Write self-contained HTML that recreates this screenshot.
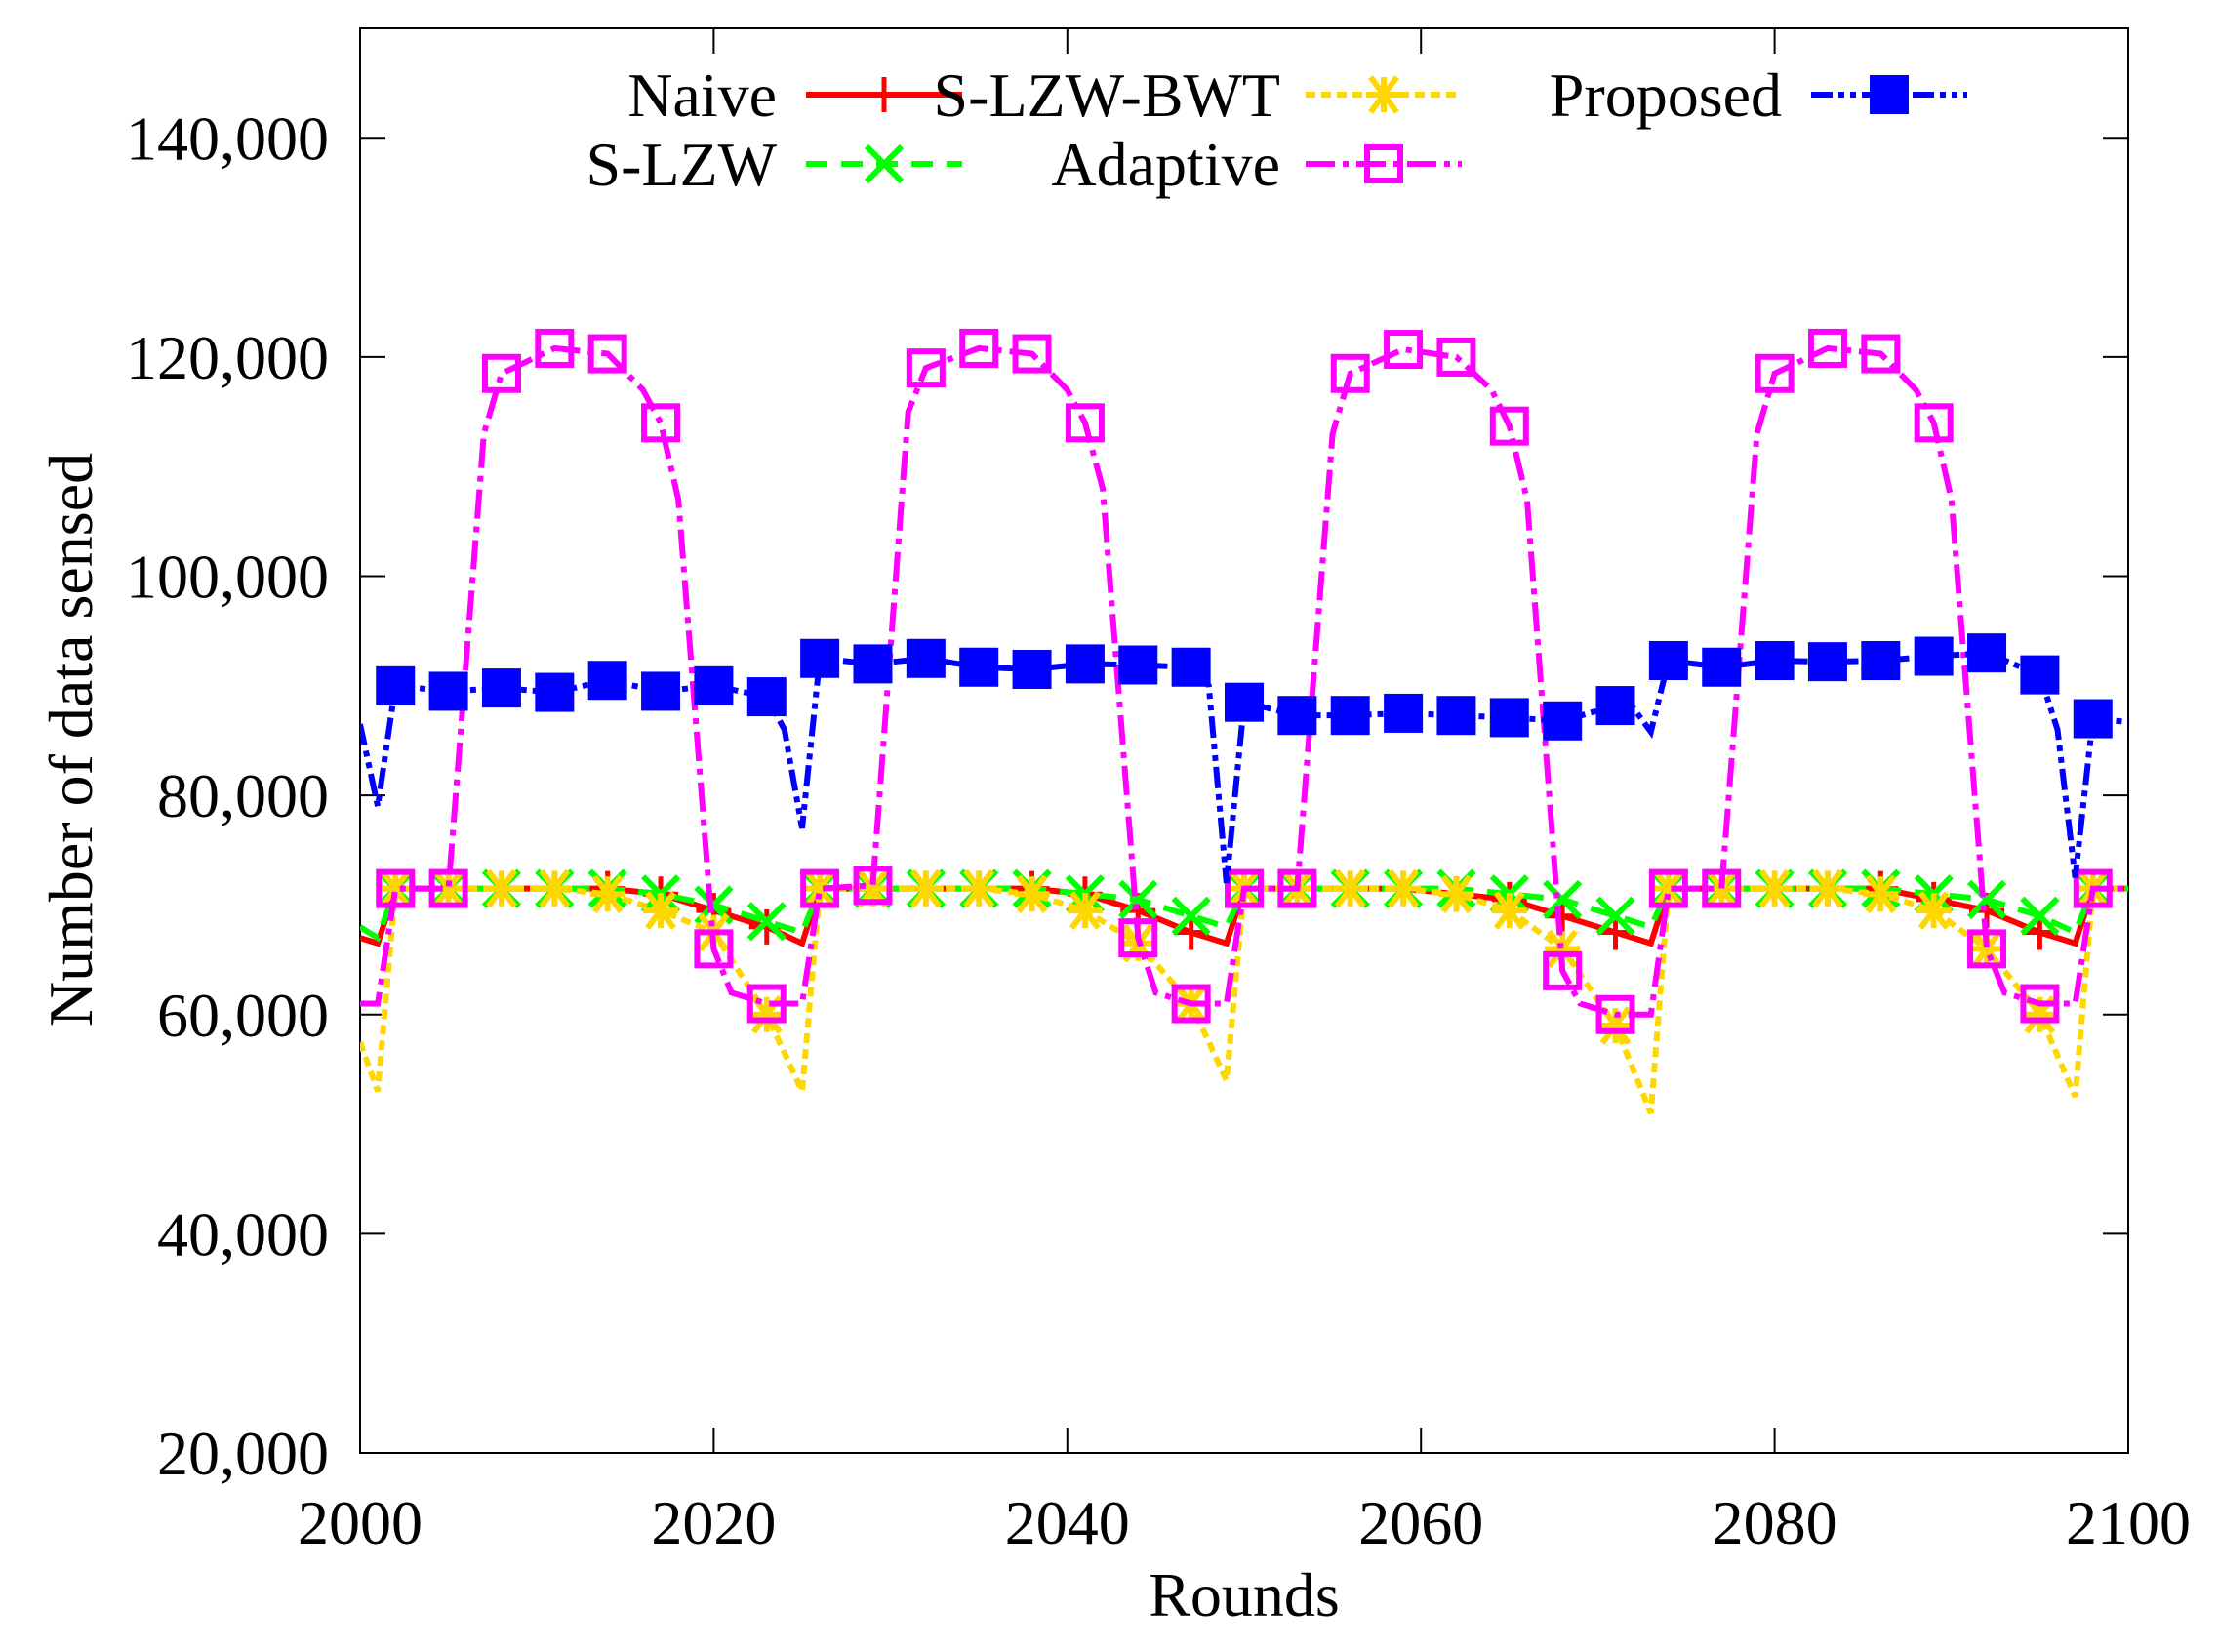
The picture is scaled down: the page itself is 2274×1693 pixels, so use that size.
<!DOCTYPE html>
<html><head><meta charset="utf-8"><style>
html,body{margin:0;padding:0;background:#fff;}
svg{display:block;font-family:"Liberation Serif",serif;}
</style></head><body>
<svg id="chart" width="2274" height="1693" viewBox="0 0 2274 1693" xmlns="http://www.w3.org/2000/svg"></svg>
<script>
const xTicks=[2000,2020,2040,2060,2080,2100];
const yTicks=[20000,40000,60000,80000,100000,120000,140000];
const yTickLabels=["20,000","40,000","60,000","80,000","100,000","120,000","140,000"];
const naiveRounds=[2000,2001,2002,2005,2008,2011,2014,2017,2020,2023,2025,2026,2029,2032,2035,2038,2041,2044,2047,2049,2050,2053,2056,2059,2062,2065,2068,2071,2073,2074,2077,2080,2083,2086,2089,2092,2095,2097,2098,2100];
const naiveValues=[67000,66500,71500,71500,71500,71500,71500,71000,69500,68000,66500,71500,71500,71500,71500,71500,71000,69500,67500,66500,71500,71500,71500,71500,71000,70500,69000,67500,66500,71500,71500,71500,71500,71500,70500,69500,67500,66500,71500,71500];
const slzwRounds=naiveRounds;
const slzwValues=[68000,67000,71500,71500,71500,71500,71500,71000,70000,68500,67500,71500,71500,71500,71500,71500,71000,70500,69000,68000,71500,71500,71500,71500,71500,71000,70500,69000,68000,71500,71500,71500,71500,71500,71000,70500,69000,67500,71500,71500];
const bwtRounds=naiveRounds;
const bwtValues=[57500,53000,71500,71500,71500,71500,71000,69500,67500,60000,53000,71500,71500,71500,71500,71000,69500,66500,61000,54000,71500,71500,71500,71500,71000,69500,66000,59000,51000,71500,71500,71500,71500,71000,69500,66000,60000,52500,71500,71500];
const adaptiveRounds=[2000,2001,2002,2005,2007,2008,2011,2014,2016,2017,2018,2020,2021,2023,2025,2026,2029,2031,2032,2035,2038,2040,2041,2042,2044,2045,2047,2049,2050,2053,2055,2056,2059,2062,2064,2065,2066,2068,2069,2071,2073,2074,2077,2079,2080,2083,2086,2088,2089,2090,2092,2093,2095,2097,2098,2100];
const adaptiveValues=[61000,61000,71500,71500,113000,118500,120800,120300,117000,114000,107000,66000,62000,61000,61000,71500,71800,115000,119000,120800,120300,117000,114000,108000,67000,62000,61000,61000,71500,71500,113000,118500,120700,120000,117000,113700,107000,64000,61000,60000,60000,71500,71500,113000,118500,120800,120300,117000,114000,107000,66000,62000,61000,61000,71500,71500];
const propRounds=[2000,2001,2002,2005,2008,2011,2014,2017,2020,2023,2024,2025,2026,2029,2032,2035,2038,2041,2044,2047,2048,2049,2050,2053,2056,2059,2062,2065,2068,2071,2072,2073,2074,2077,2080,2083,2086,2089,2092,2095,2096,2097,2098,2100];
const propValues=[86500,79000,90000,89500,89800,89400,90500,89500,90000,89000,86000,77000,92500,92000,92500,91700,91500,92000,91900,91700,90000,72000,88500,87300,87300,87500,87300,87100,86800,88200,88000,85800,92300,91700,92300,92200,92300,92700,93000,91000,86000,72500,87000,86700];

const svg=document.getElementById('chart');
const NS='http://www.w3.org/2000/svg';
const L=369,R=2181,T=29,B=1489;
const X0=2000,X1=2100,Y0=20000,Y1=150000;
function sx(v){return L+(v-X0)/(X1-X0)*(R-L);}
function sy(v){return B-(v-Y0)/(Y1-Y0)*(B-T);}
function mk(tag,attrs,parent){const e=document.createElementNS(NS,tag);for(const k in attrs)e.setAttribute(k,attrs[k]);(parent||svg).appendChild(e);return e;}

const defs=mk('defs',{});
const cp=mk('clipPath',{id:'clip'},defs);
mk('rect',{x:L,y:T,width:R-L,height:B-T},cp);

const frame=mk('rect',{x:L,y:T,width:R-L,height:B-T,fill:'none',stroke:'#000','stroke-width':2});


const tick=26;
xTicks.forEach((t,i)=>{
  const x=sx(t);
  const a=mk('line',{x1:x,y1:B,x2:x,y2:B-tick,stroke:'#000','stroke-width':2});
  
  
  const b=mk('line',{x1:x,y1:T,x2:x,y2:T+tick,stroke:'#000','stroke-width':2});
  
  
  const tx=mk('text',{x:x,y:1582,'font-size':64,'text-anchor':'middle'});
  tx.textContent=String(t);
  
  
});
yTicks.forEach((t,i)=>{
  const y=sy(t);
  const a=mk('line',{x1:L,y1:y,x2:L+tick,y2:y,stroke:'#000','stroke-width':2});
  
  
  const b=mk('line',{x1:R,y1:y,x2:R-tick,y2:y,stroke:'#000','stroke-width':2});
  
  
  const tx=mk('text',{x:337,y:y+22,'font-size':64,'text-anchor':'end'});
  tx.textContent=yTickLabels[i];
  
  
});
const xt=mk('text',{x:(L+R)/2,y:1656,'font-size':64,'text-anchor':'middle'});
xt.textContent='Rounds';


const yt=mk('text',{x:0,y:0,'font-size':64,'text-anchor':'middle',transform:'translate(94,758) rotate(-90)'});
yt.textContent='Number of data sensed';



function marker(type,color,x,y,parent){
  const g=mk('g',{},parent);
  const s=18;
  if(type==='plus'){
    mk('line',{x1:x-s,y1:y,x2:x+s,y2:y,stroke:color,'stroke-width':5},g);
    mk('line',{x1:x,y1:y-s,x2:x,y2:y+s,stroke:color,'stroke-width':5},g);
  }else if(type==='x'){
    mk('line',{x1:x-s,y1:y-s,x2:x+s,y2:y+s,stroke:color,'stroke-width':6},g);
    mk('line',{x1:x-s,y1:y+s,x2:x+s,y2:y-s,stroke:color,'stroke-width':6},g);
  }else if(type==='star'){
    mk('line',{x1:x-s,y1:y,x2:x+s,y2:y,stroke:color,'stroke-width':6},g);
    mk('line',{x1:x,y1:y-s,x2:x,y2:y+s,stroke:color,'stroke-width':6},g);
    mk('line',{x1:x-s*0.75,y1:y-s,x2:x+s*0.75,y2:y+s,stroke:color,'stroke-width':6},g);
    mk('line',{x1:x-s*0.75,y1:y+s,x2:x+s*0.75,y2:y-s,stroke:color,'stroke-width':6},g);
  }else if(type==='osq'){
    mk('rect',{x:x-17,y:y-17,width:34,height:34,fill:'none',stroke:color,'stroke-width':6},g);
  }else if(type==='fsq'){
    mk('rect',{x:x-20,y:y-20,width:40,height:40,fill:color},g);
  }
  return g;
}

const series=[
 {name:'naive',label:'Naive',rounds:naiveRounds,values:naiveValues,color:'#ff0000',dash:'',marker:'plus',lx:826,ly:97,tx:796},
 {name:'s-lzw',label:'S-LZW',rounds:slzwRounds,values:slzwValues,color:'#00ff00',dash:'22,14',marker:'x',lx:826,ly:168,tx:796},
 {name:'s-lzw-bwt',label:'S-LZW-BWT',rounds:bwtRounds,values:bwtValues,color:'#ffd700',dash:'10,6',marker:'star',lx:1338,ly:97,tx:1312},
 {name:'adaptive',label:'Adaptive',rounds:adaptiveRounds,values:adaptiveValues,color:'#ff00ff',dash:'30,8,6,8',marker:'osq',lx:1338,ly:168,tx:1312},
 {name:'proposed',label:'Proposed',rounds:propRounds,values:propValues,color:'#0000ff',dash:'22,6,6,6,6,6',marker:'fsq',lx:1856,ly:97,tx:1826}
];
series.forEach(s=>{
  const g=mk('g',{'clip-path':'url(#clip)'});
  
  
  const pts=s.rounds.map((r,i)=>sx(r)+','+sy(s.values[i])).join(' ');
  const pl=mk('polyline',{points:pts,fill:'none',stroke:s.color,'stroke-width':6,'stroke-dasharray':s.dash,'stroke-linejoin':'miter'},g);
  
  
  s.rounds.forEach((r,i)=>{
    if(r>=2002&&(r-2002)%3===0){
      const m=marker(s.marker,s.color,sx(r),sy(s.values[i]),g);
      
      
    }
  });
  const lg=mk('g',{});
  
  
  const t=mk('text',{x:s.tx,y:s.ly+22,'font-size':64,'text-anchor':'end'},lg);
  t.textContent=s.label;
  mk('line',{x1:s.lx,y1:s.ly,x2:s.lx+160,y2:s.ly,stroke:s.color,'stroke-width':6,'stroke-dasharray':s.dash},lg);
  marker(s.marker,s.color,s.lx+80,s.ly,lg);
});
</script>
</body></html>
